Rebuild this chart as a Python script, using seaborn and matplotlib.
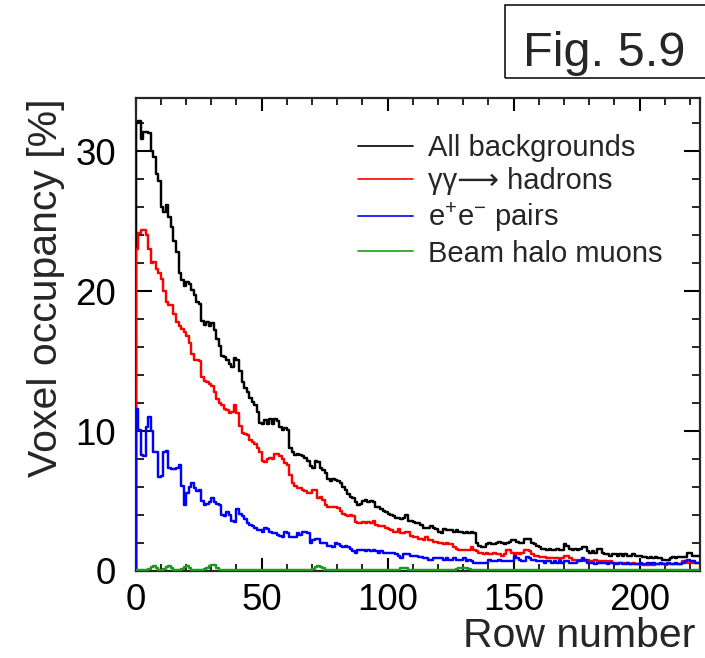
import numpy as np
import pandas as pd
import matplotlib
matplotlib.use("Agg")
import matplotlib.pyplot as plt
from matplotlib.lines import Line2D
from matplotlib.patches import Rectangle
from matplotlib.ticker import MultipleLocator
import seaborn as sns

# ---------------- data (voxel occupancy in % per row) ----------------
all_backgrounds = [
    32.0, 32.2, 30.9, 31.4, 31.4, 31.3, 30.0, 29.6, 28.4, 27.9,
    26.0, 25.7, 26.2, 25.3, 24.6, 23.6, 22.8, 21.3, 20.8, 20.4,
    20.7, 20.5, 20.1, 19.7, 19.2, 19.1, 17.9, 17.6, 17.8, 17.5,
    17.7, 17.2, 16.6, 16.1, 15.4, 15.3, 15.1, 14.8, 14.6, 15.2,
    15.1, 14.3, 13.5, 13.1, 12.8, 12.4, 12.1, 11.9, 11.4, 10.6,
    10.5, 10.8, 10.5, 10.9, 10.5, 10.9, 10.7, 10.3, 10.1, 10.2,
    10.1, 8.8, 8.5, 8.3, 8.4, 8.3, 8.2, 8.1, 7.9, 7.5,
    7.4, 7.9, 7.8, 7.4, 7.2, 7.0, 6.6, 6.4, 6.6, 6.5,
    6.4, 6.3, 6.0, 5.8, 5.5, 5.3, 5.2, 4.9, 4.7, 4.8,
    5.0, 5.1, 4.9, 5.0, 4.9, 4.6, 4.6, 4.4, 4.3, 4.2,
    4.1, 4.0, 3.9, 3.8, 3.8, 3.7, 3.8, 4.0, 3.6, 3.6,
    3.5, 3.4, 3.4, 3.3, 3.1, 3.1, 3.1, 3.2, 3.1, 3.0,
    2.8, 2.7, 3.0, 2.9, 2.9, 2.9, 2.8, 2.9, 2.8, 2.8,
    2.7, 2.8, 2.7, 2.8, 2.7, 2.0, 1.8, 1.7, 1.7, 1.9,
    2.0, 1.9, 1.9, 2.0, 2.1, 2.0, 1.9, 2.0, 2.1, 2.2,
    2.2, 2.1, 2.0, 2.0, 2.3, 2.3, 2.3, 2.0, 1.9, 1.8,
    1.7, 1.6, 1.6, 1.5, 1.6, 1.5, 1.5, 1.6, 1.5, 1.5,
    1.9, 1.8, 1.6, 1.5, 1.6, 1.5, 1.6, 1.7, 1.7, 1.4,
    1.3, 1.4, 1.3, 1.6, 1.6, 1.3, 1.2, 1.2, 1.1, 1.2,
    1.2, 1.1, 1.2, 1.1, 1.2, 1.1, 1.1, 1.2, 1.1, 1.1,
    1.1, 1.0, 1.0, 0.9, 1.0, 0.9, 1.0, 0.9, 0.9, 0.8,
    0.8, 0.8, 0.9, 1.0, 0.9, 1.0, 1.0, 1.0, 1.0, 1.3,
    1.3, 1.1, 1.1, 1.1,
]

gg_hadrons = [
    23.0, 24.2, 24.4, 24.4, 24.0, 23.0, 22.0, 22.1, 21.6, 21.3,
    20.9, 20.0, 19.2, 19.0, 19.0, 18.4, 17.8, 17.5, 17.3, 17.1,
    16.8, 16.3, 15.5, 15.1, 15.1, 15.0, 13.9, 13.6, 13.5, 13.4,
    13.2, 12.8, 12.3, 12.0, 11.9, 11.6, 11.5, 11.3, 11.4, 11.9,
    11.3, 10.4, 9.9, 9.8, 9.7, 9.4, 9.2, 9.1, 8.8, 8.5,
    7.9, 7.8, 8.0, 8.1, 8.0, 8.4, 8.4, 8.2, 8.0, 7.7,
    7.6, 6.9, 6.3, 6.1, 5.9, 5.9, 5.8, 5.7, 5.6, 5.6,
    5.8, 5.8, 5.2, 5.3, 5.1, 4.7, 4.6, 4.6, 4.6, 4.6,
    4.5, 4.3, 4.1, 4.0, 3.9, 4.0, 3.9, 3.5, 3.4, 3.4,
    3.5, 3.4, 3.5, 3.4, 3.6, 3.3, 3.2, 3.2, 3.2, 3.1,
    3.0, 2.9, 2.8, 2.8, 3.0, 2.7, 2.7, 2.8, 2.8, 2.5,
    2.4, 2.4, 2.3, 2.3, 2.2, 2.4, 2.2, 2.2, 2.1, 2.1,
    2.0, 2.0, 1.9, 2.0, 1.9, 1.9, 1.7, 1.6, 1.5, 1.5,
    1.5, 1.5, 1.5, 1.7, 1.5, 1.4, 1.3, 1.3, 1.2, 1.3,
    1.2, 1.2, 1.3, 1.2, 1.2, 1.1, 1.2, 1.5, 1.5, 1.3,
    1.2, 1.3, 1.2, 1.3, 1.5, 1.5, 1.4, 1.2, 1.1, 1.1,
    1.0, 1.0, 1.0, 0.9, 0.9, 0.9, 0.9, 0.9, 0.8, 0.9,
    1.1, 1.1, 0.9, 0.8, 0.8, 0.7, 0.8, 0.8, 0.7, 0.8,
    0.7, 0.7, 0.8, 0.7, 0.7, 0.7, 0.7, 0.6, 0.7, 0.6,
    0.6, 0.6, 0.6, 0.6, 0.6, 0.6, 0.5, 0.6, 0.5, 0.5,
    0.4, 0.4, 0.4, 0.4, 0.5, 0.4, 0.5, 0.5, 0.5, 0.5,
    0.4, 0.5, 0.5, 0.5, 0.5, 0.5, 0.5, 0.7, 0.7, 0.6,
    0.6, 0.6, 0.6, 0.6,
]

ee_pairs = [
    11.6, 10.1, 8.3, 8.2, 10.3, 11.0, 10.0, 8.5, 8.5, 6.7,
    6.8, 8.5, 8.6, 7.4, 7.3, 7.3, 7.4, 7.6, 6.1, 4.7,
    5.6, 6.0, 6.3, 5.9, 5.7, 5.8, 5.0, 4.7, 4.8, 4.9,
    5.2, 4.9, 4.8, 4.7, 4.0, 3.9, 4.2, 4.0, 3.6, 3.5,
    4.4, 4.1, 3.9, 3.7, 3.4, 3.3, 3.2, 3.1, 2.9, 2.9,
    2.8, 3.1, 3.0, 2.8, 2.7, 2.7, 2.6, 2.5, 2.4, 2.8,
    2.7, 2.4, 2.4, 2.4, 2.7, 2.6, 2.8, 2.8, 2.7, 2.0,
    2.2, 2.3, 2.3, 2.0, 2.0, 2.0, 1.8, 1.8, 1.7, 2.0,
    1.9, 1.8, 1.7, 1.8, 1.7, 1.6, 1.4, 1.3, 1.5, 1.5,
    1.5, 1.4, 1.5, 1.4, 1.5, 1.4, 1.3, 1.4, 1.3, 1.3,
    1.3, 1.3, 1.3, 1.2, 1.1, 0.9, 1.2, 1.2, 1.2, 1.1,
    1.1, 1.1, 1.0, 1.0, 0.9, 0.9, 0.8, 0.8, 0.9, 0.9,
    0.9, 0.9, 0.8, 0.9, 0.8, 0.8, 0.9, 0.8, 0.8, 0.8,
    0.9, 0.7, 0.8, 0.7, 0.6, 0.6, 0.6, 0.6, 0.6, 0.6,
    0.8, 0.7, 0.7, 0.7, 0.8, 0.7, 0.7, 0.7, 0.7, 0.7,
    1.1, 0.9, 0.8, 0.7, 0.7, 1.0, 0.9, 0.8, 0.8, 0.7,
    0.7, 0.7, 0.6, 0.7, 0.7, 0.6, 0.7, 0.6, 0.7, 0.6,
    0.7, 0.7, 0.6, 0.6, 0.6, 0.7, 0.7, 0.9, 0.8, 0.6,
    0.6, 0.6, 0.5, 0.6, 0.6, 0.6, 0.6, 0.5, 0.6, 0.6,
    0.5, 0.5, 0.6, 0.5, 0.5, 0.6, 0.5, 0.5, 0.5, 0.5,
    0.6, 0.5, 0.5, 0.6, 0.5, 0.6, 0.5, 0.5, 0.6, 0.5,
    0.5, 0.6, 0.5, 0.5, 0.6, 0.5, 0.5, 0.6, 0.7, 0.8,
    0.7, 0.7, 0.6, 0.6,
]

beam_halo = [
    0.05, 0.10, 0.10, 0.10, 0.10, 0.15, 0.30, 0.35, 0.25, 0.10,
    0.10, 0.15, 0.30, 0.35, 0.20, 0.10, 0.10, 0.10, 0.15, 0.30,
    0.35, 0.20, 0.10, 0.10, 0.10, 0.10, 0.10, 0.15, 0.20, 0.35,
    0.45, 0.40, 0.20, 0.10, 0.10, 0.10, 0.10, 0.10, 0.10, 0.10,
    0.10, 0.10, 0.10, 0.10, 0.10, 0.10, 0.10, 0.10, 0.10, 0.10,
    0.10, 0.10, 0.10, 0.10, 0.10, 0.10, 0.10, 0.10, 0.10, 0.10,
    0.10, 0.10, 0.10, 0.08, 0.08, 0.08, 0.08, 0.08, 0.08, 0.10,
    0.15, 0.30, 0.35, 0.30, 0.20, 0.10, 0.08, 0.08, 0.08, 0.08,
    0.08, 0.08, 0.08, 0.08, 0.08, 0.08, 0.08, 0.08, 0.08, 0.08,
    0.08, 0.08, 0.08, 0.08, 0.08, 0.08, 0.08, 0.08, 0.08, 0.08,
    0.08, 0.08, 0.08, 0.08, 0.10, 0.20, 0.25, 0.20, 0.10, 0.08,
    0.06, 0.06, 0.06, 0.06, 0.06, 0.06, 0.06, 0.06, 0.06, 0.06,
    0.06, 0.06, 0.06, 0.06, 0.06, 0.06, 0.10, 0.15, 0.20, 0.25,
    0.25, 0.20, 0.15, 0.10, 0.06, 0.05, 0.04, 0.04, 0.04, 0.04,
    0.04, 0.04, 0.04, 0.04, 0.04, 0.04, 0.04, 0.04, 0.04, 0.04,
    0.04, 0.04, 0.04, 0.04, 0.04, 0.04, 0.04, 0.04, 0.04, 0.04,
    0.04, 0.04, 0.04, 0.04, 0.04, 0.04, 0.04, 0.04, 0.04, 0.04,
    0.04, 0.04, 0.04, 0.04, 0.04, 0.04, 0.04, 0.04, 0.04, 0.04,
    0.04, 0.04, 0.04, 0.04, 0.04, 0.04, 0.04, 0.04, 0.04, 0.04,
    0.04, 0.04, 0.04, 0.04, 0.04, 0.04, 0.04, 0.04, 0.04, 0.04,
    0.04, 0.04, 0.04, 0.04, 0.04, 0.04, 0.04, 0.04, 0.04, 0.04,
    0.04, 0.04, 0.04, 0.04, 0.04, 0.04, 0.04, 0.04, 0.04, 0.04,
    0.04, 0.04, 0.04, 0.04,
]

series_labels = ["All backgrounds", "\u03b3\u03b3\u27f6 hadrons",
                 "e$^{+}$e$^{-}$ pairs", "Beam halo muons"]
series_colors = ["#000000", "#ff0000", "#0000ff", "#1a9c1a"]
n_rows = 224
x_ticks = [0, 50, 100, 150, 200]
y_ticks = [0, 10, 20, 30]

# ---------------- style ----------------
sns.set_style("ticks")
plt.rcParams["font.family"] = ["Liberation Sans", "DejaVu Sans"]
plt.rcParams["mathtext.fontset"] = "custom"
plt.rcParams["mathtext.rm"] = "Liberation Sans"
plt.rcParams["mathtext.it"] = "Liberation Sans"

DPI = 100
fig = plt.figure(figsize=(7.05, 6.58), dpi=DPI)
W, H = 705, 658
ax = fig.add_axes([135.7 / W, 1 - 571 / H, (700 - 135.7) / W, (571 - 98.3) / H])

centers = np.arange(n_rows) + 0.5
df = pd.DataFrame({"row": centers,
                   "All": all_backgrounds, "gg": gg_hadrons,
                   "ee": ee_pairs, "halo": beam_halo})

lw = 1.75
for col, color in zip(["All", "gg", "ee", "halo"], series_colors):
    sns.histplot(data=df, x="row", weights=col, binwidth=1,
                 binrange=(0, n_rows), element="step", fill=False,
                 color=color, linewidth=lw, ax=ax, zorder=3)
    ax.vlines(0, 0, df[col].iloc[0], color=color, linewidth=lw, zorder=3)

ax.set_xlim(0, n_rows)
ax.set_ylim(0, 33.8)

ax.set_xticks(x_ticks)
ax.set_yticks(y_ticks)
ax.xaxis.set_minor_locator(MultipleLocator(10))
ax.yaxis.set_minor_locator(MultipleLocator(2))
for s in ax.spines.values():
    s.set_linewidth(1.6)
    s.set_visible(True)
ax.tick_params(axis="both", which="both", direction="in", top=True, right=True,
               colors="black", labelsize=26.5)
ax.tick_params(axis="y", which="major", length=11.5, width=1.5, pad=14)
ax.tick_params(axis="y", which="minor", length=5.5, width=1.2)
ax.tick_params(axis="x", which="major", length=9.5, width=1.5, pad=9)
ax.tick_params(axis="x", which="minor", length=5, width=1.2)

ax.set_xlabel("Row number", fontsize=29.5, loc="right")
ax.set_ylabel("Voxel occupancy [%]", fontsize=29.5, loc="top")
ax.xaxis.set_label_coords(0.992, -0.098)
ax.yaxis.set_label_coords(-0.125, 1.0)

handles = [Line2D([], [], color=c, linewidth=1.2) for c in series_colors]
ax.legend(handles, series_labels, loc="upper left",
          bbox_to_anchor=((358 - 135.7) / 564.3, (571 - 134) / 472.7),
          frameon=False, fontsize=21, handlelength=1.9, handletextpad=0.5,
          labelspacing=0.18, borderpad=0.0, borderaxespad=0.0)

# "Fig. 5.9" box
fig.patches.append(Rectangle((505 / W, 1 - 78 / H), 1.0, (78 - 5) / H,
                             transform=fig.transFigure, fill=False,
                             edgecolor="black", linewidth=1.1))
fig.text(523 / W, 1 - 66 / H, "Fig. 5.9", fontsize=35, ha="left",
         va="baseline")

fig.savefig("out.png", dpi=DPI)
